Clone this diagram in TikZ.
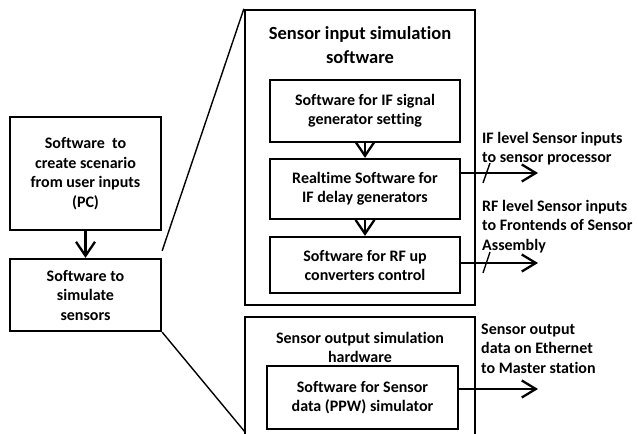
\documentclass[tikz,border=0pt]{standalone}
\usepackage{fontspec}
\setmainfont{Carlito}[Ligatures=NoCommon]
\usetikzlibrary{arrows.meta}
\begin{document}
\begin{tikzpicture}[x=1pt,y=-1pt,
  box/.style={draw,line width=2.3pt,inner sep=0pt,align=center,font=\fontsize{16}{19}\selectfont\bfseries},
  lbox/.style={box,font=\fontsize{16}{19.5}\selectfont\bfseries},
  lbl/.style={inner sep=0pt,align=left,anchor=north west,font=\fontsize{16}{19.5}\selectfont\bfseries},
  ttl/.style={inner sep=0pt,align=center,font=\fontsize{18.5}{23.5}\selectfont\bfseries},
  conn/.style={line width=2.3pt,-{Straight Barb[length=14pt,width=19pt,line width=2.3pt]}},
  outa/.style={line width=2.3pt,-{Straight Barb[length=14pt,width=17pt,line width=2.3pt]}},
  thin/.style={line width=1.4pt}]
\useasboundingbox (0,0) rectangle (638,434);
% left boxes
\node[lbox,minimum width=151pt,minimum height=113pt] (scen) at (85.5,173.5) {Software\ \ to\\create scenario\\from user inputs\\(PC)};
\node[lbox,minimum width=151pt,minimum height=72pt] (sim) at (85.5,295) {Software to\\simulate\\sensors};
\draw[conn] (scen.south) -- (sim.north);
% big box 1
\node[box,minimum width=230pt,minimum height=295pt] (big1) at (360,157.5) {};
\node[ttl] (t1) at (360,45) {Sensor input simulation\\software};
\node[box,minimum width=190pt,minimum height=62pt] (A) at (365,111) {Software for IF signal\\generator setting};
\node[box,minimum width=190pt,minimum height=60pt] (B) at (365,189) {Realtime Software for\\IF delay generators};
\node[box,minimum width=190pt,minimum height=56pt] (C) at (365,265) {Software for RF up\\converters control};
\draw[conn] (A.south) -- (B.north);
\draw[conn] (B.south) -- (C.north);
% big box 2 (open at bottom)
\coordinate (b2bl) at (245,440);
\coordinate (b2tl) at (245,317);
\coordinate (b2tr) at (475,317);
\coordinate (b2br) at (475,440);
\draw[line width=2.3pt] (b2bl) -- (b2tl) -- (b2tr) -- (b2br);
\node[inner sep=0pt,align=center,font=\fontsize{16}{19}\selectfont\bfseries] (t2) at (360,347.5) {Sensor output simulation\\hardware};
\node[box,minimum width=191pt,minimum height=63pt,fill=white] (D) at (362.5,397.5) {Software for Sensor\\data (PPW) simulator};
% zoom lines
\draw[thin] (sim.north east) ++(0,-7) coordinate (z1) -- (big1.north west);
\draw[thin] (sim.south east) -- (b2bl |- 0,432) coordinate (z2);
% outputs
\coordinate (o1) at (538,173);
\coordinate (o2) at (538,263);
\coordinate (o3) at (538,389);
\draw[outa] (B.east |- o1) -- (o1);
\draw[outa] (C.east |- o2) -- (o2);
\draw[outa] (D.east |- o3) -- (o3);
\draw[thin] (483,183) -- (490,163);
\draw[thin] (483,273) -- (490,252);
% labels
\node[lbl] (l1) at (482,132) {IF level Sensor inputs\\to sensor processor};
\node[lbl] (l2) at (482,200) {RF level Sensor inputs\\to Frontends of Sensor\\Assembly};
\node[lbl] (l3) at (481,323.5) {Sensor output\\data on Ethernet\\to Master station};
\end{tikzpicture}
\end{document}
